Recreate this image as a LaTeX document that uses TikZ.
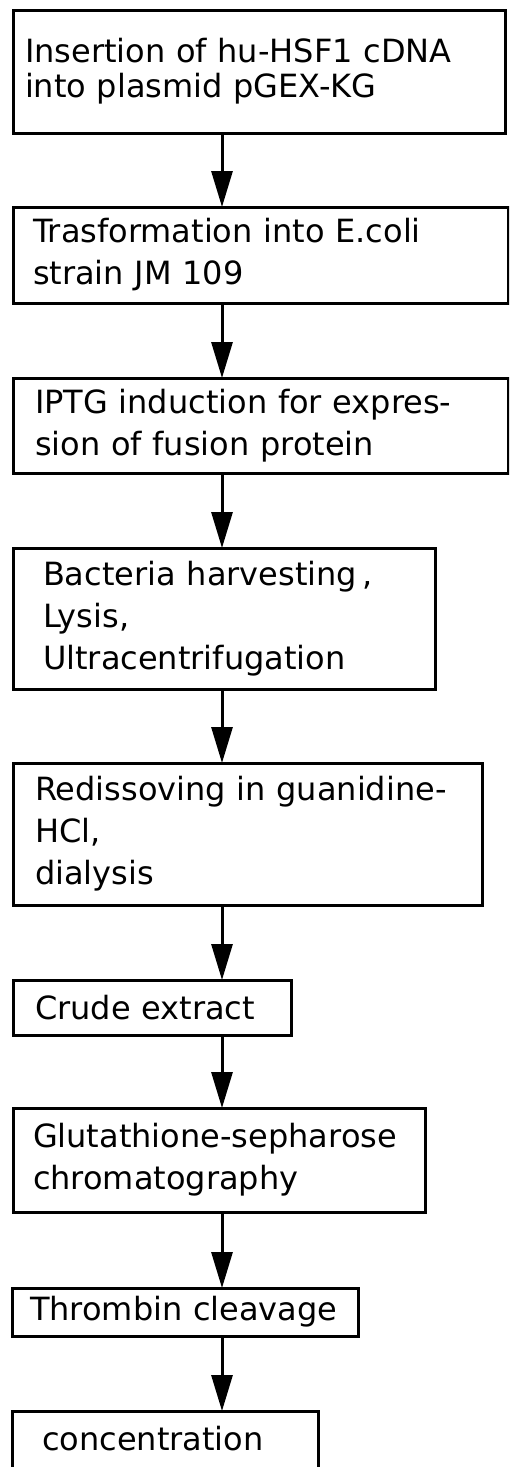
\documentclass[tikz,border=0pt]{standalone}
\usepackage{fontspec}
\setmainfont{DejaVu Sans}
\usetikzlibrary{arrows.meta}

\tikzset{
	stepbox/.style={draw, rectangle, line width=3pt, anchor=north west,
		outer sep=0pt, inner ysep=0pt, align=left,
		font=\fontsize{32}{42}\selectfont},
	flow/.style={line width=3pt, -{Triangle[length=36pt,width=21pt]}}
}

\begin{document}
\begin{tikzpicture}[x=1pt, y=-1pt, line cap=butt]
\clip (0,0) rectangle (509,1467);
\coordinate (spine) at (222,0);

\node [stepbox, minimum width=492, minimum height=123, inner xsep=12pt,
		text width=468pt, font=\fontsize{32}{35}\selectfont]
	(insert) at (13,10) {Insertion of hu-HSF1 cDNA\\into plasmid pGEX-KG};
\node [stepbox, minimum width=495, minimum height=96, inner xsep=20pt, text width=455pt]
	(transform) at (13,207) {Trasformation into E.coli\\strain JM 109};
\node [stepbox, minimum width=495, minimum height=95, inner xsep=22pt, text width=451pt]
	(induce) at (13,378) {IPTG induction for expres-\\sion of fusion protein};
\node [stepbox, minimum width=422, minimum height=141, inner xsep=30pt, text width=362pt]
	(harvest) at (13,548) {Bacteria harvesting\hspace{5pt},\\Lysis,\\Ultracentrifugation};
\node [stepbox, minimum width=469, minimum height=142, inner xsep=22pt, text width=425pt]
	(redissolve) at (13,763) {Redissoving in guanidine-\\HCl,\\dialysis};
\node [stepbox, minimum width=278, minimum height=55, inner xsep=22pt, text width=234pt]
	(crude) at (13,980) {Crude extract};
\node [stepbox, minimum width=412, minimum height=104, inner xsep=20pt, text width=372pt]
	(column) at (13,1108) {Glutathione-sepharose\\chromatography};
\node [stepbox, minimum width=346, minimum height=48, inner xsep=18pt, text width=310pt]
	(cleave) at (12,1288) {Thrombin cleavage};
% last box runs off the page
\node [stepbox, minimum width=306, inner xsep=30pt, text width=246pt,
		inner ysep=15pt, text height=24pt, text depth=70pt]
	(conc) at (12,1411) {concentration};

\foreach \a/\b in {insert/transform, transform/induce, induce/harvest,
		harvest/redissolve, redissolve/crude, crude/column, column/cleave, cleave/conc}
	\draw [flow] (\a.south -| spine) -- (\b.north -| spine);
\end{tikzpicture}
\end{document}
